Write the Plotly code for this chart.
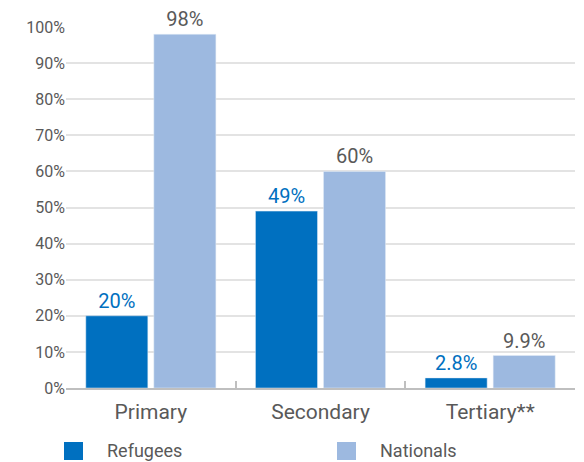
import plotly.graph_objects as go

categories = ["Primary", "Secondary", "Tertiary**"]
refugees = [20, 49, 2.8]
nationals = [98, 60, 9]
refugees_labels = ["20%", "49%", "2.8%"]
nationals_labels = ["98%", "60%", "9.9%"]
y_ticks = [0, 10, 20, 30, 40, 50, 60, 70, 80, 90, 100]
y_tick_labels = ["0%", "10%", "20%", "30%", "40%", "50%", "60%", "70%", "80%", "90%", "100%"]
series_names = ["Refugees", "Nationals"]
series_colors = ["#0070C0", "#9DB9E0"]

FONT = "Roboto"
GRAY = "#595959"

fig = go.Figure()
fig.add_trace(go.Bar(
    name=series_names[0], x=categories, y=refugees, text=refugees_labels,
    textposition="outside", marker_color=series_colors[0],
    textfont=dict(family=FONT, size=20, color="#0070C0"), cliponaxis=False,
))
fig.add_trace(go.Bar(
    name=series_names[1], x=categories, y=nationals, text=nationals_labels,
    textposition="outside", marker_color=series_colors[1],
    textfont=dict(family=FONT, size=20, color=GRAY), cliponaxis=False,
))

# legend drawn manually to match the reference placement
# (plot area spans page x 66..575, y 27..388)
legend_x = [64, 337]
for name, color, lx in zip(series_names, series_colors, legend_x):
    fig.add_shape(type="rect", xref="paper", yref="paper",
                  x0=(lx - 66) / 509, x1=(lx + 19 - 66) / 509,
                  y0=(388 - 460) / 361, y1=(388 - 442) / 361,
                  fillcolor=color, line=dict(width=0))
    fig.add_annotation(xref="paper", yref="paper", x=(lx + 41 - 66) / 509,
                       y=(388 - 451) / 361, xanchor="left", yanchor="middle",
                       text=name, showarrow=False,
                       font=dict(family=FONT, size=18, color=GRAY))

fig.update_layout(
    width=576, height=454,
    margin=dict(l=58, r=9, t=19, b=74, autoexpand=False),
    paper_bgcolor="white", plot_bgcolor="white",
    barmode="group", bargap=0.198, bargroupgap=0.088,
    font=dict(family=FONT, color=GRAY),
    showlegend=False,
)
fig.update_xaxes(
    showline=True, linecolor="#BFBFBF", linewidth=2,
    ticks="inside", tickson="boundaries", ticklen=7, tickcolor="#BFBFBF", tickwidth=2,
    tickfont=dict(size=21, color=GRAY), showgrid=False, automargin=False,
    ticklabelstandoff=4,
)
fig.update_yaxes(
    range=[0, 100], tickmode="array", tickvals=y_ticks, ticktext=y_tick_labels,
    tickfont=dict(size=16, color=GRAY), showgrid=True, gridcolor="#E3E3E3", gridwidth=2,
    zeroline=False, showline=False, ticks="", automargin=False,
)

fig.write_html("out.html")
